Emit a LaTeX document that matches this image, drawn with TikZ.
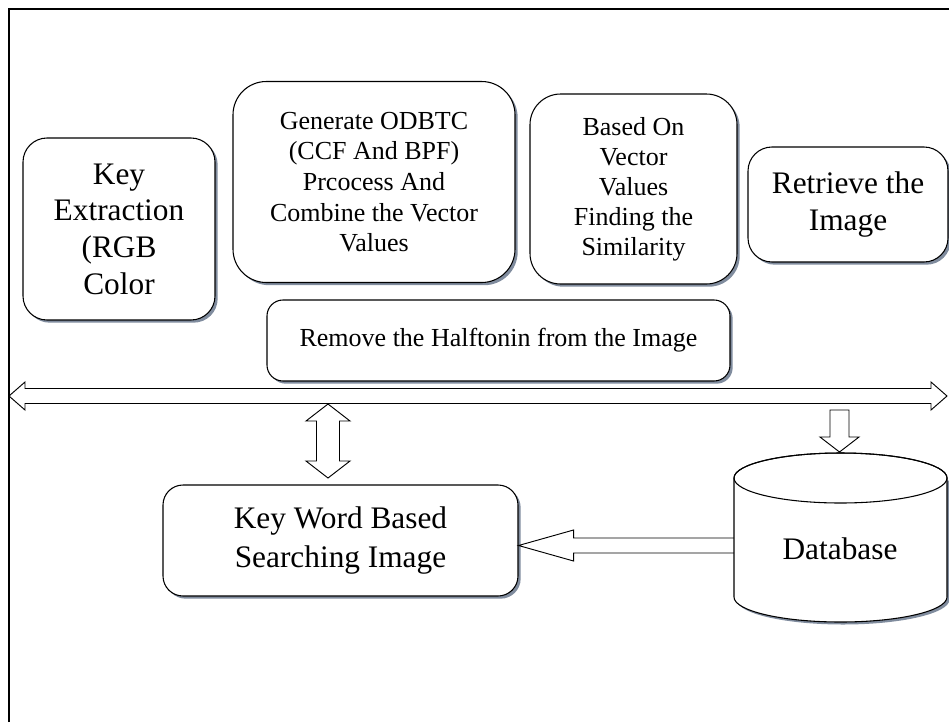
\documentclass[tikz,border=0pt]{standalone}
\usepackage{fontspec}
\setmainfont{Liberation Serif}
\usetikzlibrary{shadows,calc}
\definecolor{shadowc}{RGB}{128,140,158}
\tikzset{
 box/.style={draw, line width=0.8pt, fill=white, align=center, inner sep=0pt,
   drop shadow={shadow xshift=2pt, shadow yshift=-2pt, fill=shadowc, opacity=1}},
 big/.style={font=\fontsize{23.5}{27.5}\selectfont},
 small/.style={font=\fontsize{19.5}{23}\selectfont},
 barrow/.style={draw, fill=white, line width=0.7pt, line join=miter},
}
\begin{document}
\begin{tikzpicture}[x=0.75pt,y=-0.75pt]
\useasboundingbox (0,0) rectangle (949,722);
\draw[line width=1pt] (9,722) -- (9,9) -- (949,9);

% boxes
\node[box, big, rounded corners=18pt, minimum width=144pt, minimum height=136.5pt] (ke) at (119,229) {Key\\Extraction\\(RGB\\Color};
\node[box, small, rounded corners=25pt, minimum width=211.5pt, minimum height=150.75pt] (gen) at (374,182) {Generate ODBTC\\(CCF And BPF)\\Prcocess And\\Combine the Vector\\Values};
\node[box, font=\fontsize{19.5}{22.5}\selectfont, rounded corners=23pt, minimum width=155.25pt, minimum height=142.5pt] (sim) at (633.5,189) {Based On\\Vector\\Values\\Finding the\\Similarity};
\node[box, big, font=\fontsize{23.5}{27.75}\selectfont, rounded corners=18pt, minimum width=150pt, minimum height=86.25pt] (ret) at (848,204.5) {Retrieve the\\Image};
\node[box, small, rounded corners=12pt, minimum width=347.25pt, minimum height=60.75pt] (rem) at (498.5,340.5) {Remove the Halftonin from the Image};
\node[box, font=\fontsize{23.5}{29}\selectfont, rounded corners=15pt, minimum width=266.25pt, minimum height=83.25pt] (kw) at (340.5,540.5) {Key Word Based\\Searching Image};

% connector end points
\coordinate (hL) at (9,396);
\coordinate (hR) at (947,396);
\coordinate (vT) at (328,404);
\coordinate (vB) at (328,478);
\coordinate (dT) at (839.5,410);
\coordinate (dB) at (839.5,452);
\coordinate (lT) at (kw.east |- 0,545.5);
\coordinate (lE) at (734,545.5);

% horizontal double arrow
\draw[barrow] (hL) -- ++(16,-14) -- ++(0,6.5) -- ($(hR)+(-16,-7.5)$) -- ++(0,-6.5) -- (hR)
  -- ++(-16,14) -- ++(0,-6.5) -- ($(hL)+(16,7.5)$) -- ++(0,6.5) -- cycle;
% vertical double arrow
\draw[barrow] (vT) -- ++(22,17) -- ++(-10.5,0) -- ($(vB)+(11.5,-17)$) -- ++(10.5,0) -- (vB)
  -- ++(-22,-17) -- ++(10.5,0) -- ($(vT)+(-11.5,17)$) -- ++(-10.5,0) -- cycle;
% down arrow to database
\draw[barrow] ($(dT)+(-9.5,0)$) -- ++(19,0) -- ($(dB)+(9.5,-15)$) -- ++(10,0) -- (dB)
  -- ++(-19.5,-15) -- ++(10,0) -- cycle;
% left arrow from database
\draw[barrow] ($(lE)+(0,-7.5)$) -- ($(lT)+(55,-7.5)$) -- ++(0,-8) -- (lT) -- ++(55,15.5) -- ++(0,-8) -- ($(lE)+(0,7.5)$);

% database cylinder
\begin{scope}[shift={(2.5,2.5)}]
\fill[shadowc] (734,478) -- (734,597) arc[start angle=180, end angle=0, x radius=106.5, y radius=25] -- (947,478) -- cycle;
\end{scope}
\filldraw[fill=white, line width=0.8pt] (734,478) -- (734,597) arc[start angle=180, end angle=0, x radius=106.5, y radius=25] -- (947,478) arc[start angle=0, end angle=-180, x radius=106.5, y radius=25] -- cycle;
\draw[line width=0.8pt] (840.5,478) ellipse [x radius=106.5, y radius=25];
\node[big, inner sep=0pt] (db) at (840,549) {Database};
\end{tikzpicture}
\end{document}
